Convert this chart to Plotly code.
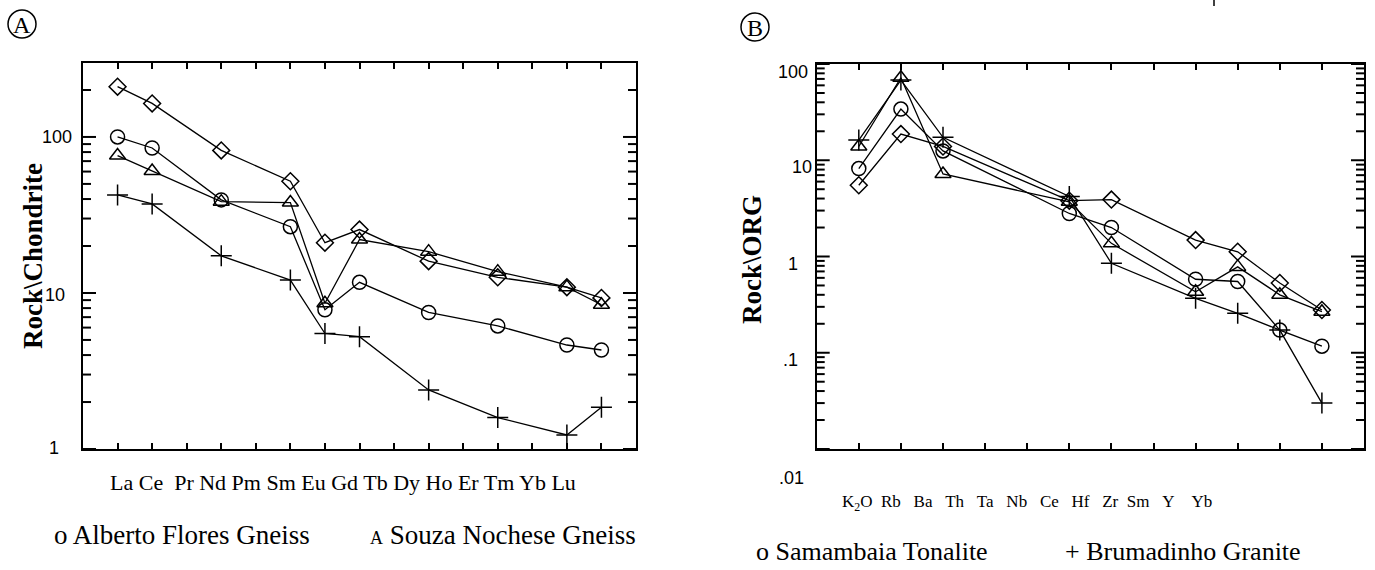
import math
import plotly.graph_objects as go

# ---------------- data ----------------
ree_labels = ["La", "Ce", "Pr", "Nd", "Pm", "Sm", "Eu", "Gd", "Tb", "Dy", "Ho", "Er", "Tm", "Yb", "Lu"]
ree_plotted = ["La", "Ce", "Nd", "Sm", "Eu", "Gd", "Dy", "Er", "Yb", "Lu"]
ree_diamond = [210, 164, 82, 52, 21, 25.5, 16, 12.6, 10.9, 9.3]
ree_circle = [100, 85, 39.5, 26.6, 7.8, 11.7, 7.5, 6.15, 4.64, 4.31]
ree_triangle = [76, 60.5, 38.5, 38, 8.6, 22, 18.4, 13.7, 10.9, 8.4]
ree_plus = [42.5, 37.2, 17.3, 12.1, 5.5, 5.25, 2.39, 1.59, 1.23, 1.85]

org_labels = ["K<sub>2</sub>O", "Rb", "Ba", "Th", "Ta", "Nb", "Ce", "Hf", "Zr", "Sm", "Y", "Yb"]
org_keys = ["K2O", "Rb", "Ba", "Th", "Ta", "Nb", "Ce", "Hf", "Zr", "Sm", "Y", "Yb"]
org_plotted = ["K2O", "Rb", "Ba", "Nb", "Ce", "Zr", "Sm", "Y", "Yb"]
org_diamond = [5.5, 18.7, 13.9, 3.8, 3.9, 1.48, 1.12, 0.53, 0.278]
org_circle = [8.2, 34, 12.5, 2.8, 2.0, 0.58, 0.55, 0.172, 0.117]
org_triangle = [13.9, 72, 7.2, 3.7, 1.37, 0.43, 0.78, 0.40, 0.267]
org_plus = [16.2, 68, 17.3, 4.2, 0.85, 0.368, 0.257, 0.172, 0.030]

a_ytick_vals = [1, 10, 100]
a_ytick_text = ["1", "10", "100"]
b_ytick_vals = [0.01, 0.1, 1, 10, 100]
b_ytick_text = [".01", ".1", "1", "10", "100"]

series_names = ["Samambaia Tonalite", "Alberto Flores Gneiss", "Souza Nochese Gneiss", "Brumadinho Granite"]

# ---------------- layout helpers ----------------
W, H = 1375, 570
def px(x):
    return x / W
def py(y):
    return 1 - y / H

SERIF = "Liberation Serif, Times New Roman, serif"
SANS = "Liberation Sans Narrow, Liberation Sans, Arial, sans-serif"

marker_styles = [
    dict(symbol="diamond-open", size=13),
    dict(symbol="circle-open", size=14),
    dict(symbol="triangle-up-open", size=14),
    dict(symbol="cross-thin-open", size=15),
]

fig = go.Figure()

ree_x = [ree_labels.index(e) for e in ree_plotted]
for name, vals, ms in zip(series_names, [ree_diamond, ree_circle, ree_triangle, ree_plus], marker_styles):
    fig.add_trace(go.Scatter(
        x=ree_x, y=vals, mode="lines+markers", name=name, showlegend=False,
        line=dict(color="black", width=1.3),
        marker=dict(symbol=ms["symbol"], size=ms["size"], color="black",
                    line=dict(color="black", width=1.5)),
        xaxis="x", yaxis="y"))

org_x = [org_keys.index(e) for e in org_plotted]
for name, vals, ms in zip(series_names, [org_diamond, org_circle, org_triangle, org_plus], marker_styles):
    fig.add_trace(go.Scatter(
        x=org_x, y=vals, mode="lines+markers", name=name, showlegend=False,
        line=dict(color="black", width=1.3),
        marker=dict(symbol=ms["symbol"], size=ms["size"], color="black",
                    line=dict(color="black", width=1.5)),
        xaxis="x2", yaxis="y2"))

A_YRANGE = [0, 2.474]
B_YRANGE = [-2, 2]

xcommon = dict(ticks="inside", ticklen=6, tickwidth=1.5, tickcolor="black",
               showticklabels=False, showline=True, linewidth=2, linecolor="black",
               mirror="allticks", showgrid=False, zeroline=False)
ycommon = dict(type="log", tickvals=[], ticks="", showticklabels=False, showline=True,
               linewidth=2, linecolor="black", mirror=True, showgrid=False, zeroline=False)

fig.update_layout(
    width=W, height=H, margin=dict(l=0, r=0, t=0, b=0),
    paper_bgcolor="white", plot_bgcolor="white", showlegend=False,
    xaxis=dict(domain=[px(83), px(636)], range=[-1, 15], tickvals=list(range(len(ree_labels))),
               anchor="y", **xcommon),
    yaxis=dict(domain=[py(449), py(63)], range=A_YRANGE, anchor="x", **ycommon),
    xaxis2=dict(domain=[px(816.7), px(1364)], range=[-1, 12], tickvals=list(range(len(org_keys))),
                anchor="y2", **xcommon),
    yaxis2=dict(domain=[py(449), py(64)], range=B_YRANGE, anchor="x2", **ycommon),
)

ann = []
# y tick labels (panel A)
for v, t, xc, ys in zip(a_ytick_vals, a_ytick_text, [53.5, 55, 57], [1, -2, 0]):
    ann.append(dict(x=px(xc), xref="paper", y=math.log10(v), yref="y", yshift=ys, text=t,
                    showarrow=False, xanchor="center", yanchor="middle",
                    font=dict(family=SANS, size=18, color="black")))
# y tick labels (panel B)
for v, t, xc, ys in zip(b_ytick_vals, b_ytick_text, [791, 790, 793, 802, 793], [-29, -7, -7, -7, -8]):
    ann.append(dict(x=px(xc), xref="paper", y=math.log10(v), yref="y2", yshift=ys, text=t,
                    showarrow=False, xanchor="center", yanchor="middle",
                    font=dict(family=SANS, size=18, color="black")))

# axis titles
ann.append(dict(x=px(16), y=py(256), xref="paper", yref="paper", text="<b>Rock\\Chondrite</b>",
                textangle=-90, showarrow=False, font=dict(family=SERIF, size=27, color="black")))
ann.append(dict(x=px(752), y=py(260), xref="paper", yref="paper", text="<b>Rock\\ORG</b>",
                textangle=-90, showarrow=False, font=dict(family=SERIF, size=27, color="black")))

# x category label strings
ree_text = " ".join(ree_labels[:2]) + "\u00a0\u00a0" + " ".join(ree_labels[2:])
ann.append(dict(x=px(108), y=py(482), xref="paper", yref="paper", text=ree_text,
                showarrow=False, xanchor="left", yanchor="middle",
                font=dict(family=SERIF, size=22, color="black")))
org_gaps = [2, 3, 3, 3, 3, 3, 3, 3, 2, 3, 4]
org_text = org_labels[0]
for g, lab in zip(org_gaps, org_labels[1:]):
    org_text += "\u00a0" * g + lab
ann.append(dict(x=px(840), y=py(503), xref="paper", yref="paper", text=org_text,
                showarrow=False, xanchor="left", yanchor="middle",
                font=dict(family=SERIF, size=17, color="black")))

# legend-like captions
ann.append(dict(x=px(52), y=py(535), xref="paper", yref="paper",
                text="o Alberto Flores Gneiss", showarrow=False, xanchor="left", yanchor="middle",
                font=dict(family=SERIF, size=27, color="black")))
ann.append(dict(x=px(368), y=py(535), xref="paper", yref="paper",
                text="<span style='font-size:18px'>A</span> Souza Nochese Gneiss", showarrow=False,
                xanchor="left", yanchor="middle", font=dict(family=SERIF, size=27, color="black")))
ann.append(dict(x=px(754), y=py(568), xref="paper", yref="paper",
                text="o Samambaia Tonalite", showarrow=False, xanchor="left", yanchor="bottom",
                font=dict(family=SERIF, size=26, color="black")))
ann.append(dict(x=px(1063), y=py(568), xref="paper", yref="paper",
                text="+ Brumadinho Granite", showarrow=False, xanchor="left", yanchor="bottom",
                font=dict(family=SERIF, size=26, color="black")))

# panel letters
for cx, cy, letter in [(22, 24, "A"), (755, 27, "B")]:
    ann.append(dict(x=px(cx), y=py(cy + 1), xref="paper", yref="paper", text=letter,
                    showarrow=False, xanchor="center", yanchor="middle",
                    font=dict(family=SERIF, size=24, color="black")))

fig.update_layout(annotations=ann)

def minor_vals(lo, hi):
    out = []
    for d in range(lo, hi):
        for m in range(2, 10):
            out.append(m * 10.0 ** d)
    return out

shapes = []
# log-axis ticks on both vertical sides: long at decades, short at 2..9 multiples
for axis_x, axis_y, majors, minors, rng in [
        ("x", "y", a_ytick_vals, minor_vals(0, 3), A_YRANGE),
        ("x2", "y2", b_ytick_vals, minor_vals(-2, 2), B_YRANGE)]:
    for vals, ln, lw in [(majors, 13, 2), (minors, 8, 2)]:
        for v in vals:
            f = (math.log10(v) - rng[0]) / (rng[1] - rng[0])
            if f < 0 or f > 1:
                continue
            for anchor, x0, x1 in [(0, 0, ln), (1, -ln, 0)]:
                shapes.append(dict(type="line", xref=axis_x + " domain", yref=axis_y + " domain",
                                   xsizemode="pixel", xanchor=anchor, x0=x0, x1=x1,
                                   y0=f, y1=f, line=dict(color="black", width=lw)))
for cx, cy in [(22, 24), (755, 27)]:
    r = 14
    shapes.append(dict(type="circle", xref="paper", yref="paper",
                       x0=px(cx - r), x1=px(cx + r), y0=py(cy + r), y1=py(cy - r),
                       line=dict(color="black", width=1.5)))
shapes.append(dict(type="line", xref="paper", yref="paper", x0=px(1214), x1=px(1214),
                   y0=py(0), y1=py(6), line=dict(color="black", width=1.5)))
fig.update_layout(shapes=shapes)

fig.write_html("out.html")
